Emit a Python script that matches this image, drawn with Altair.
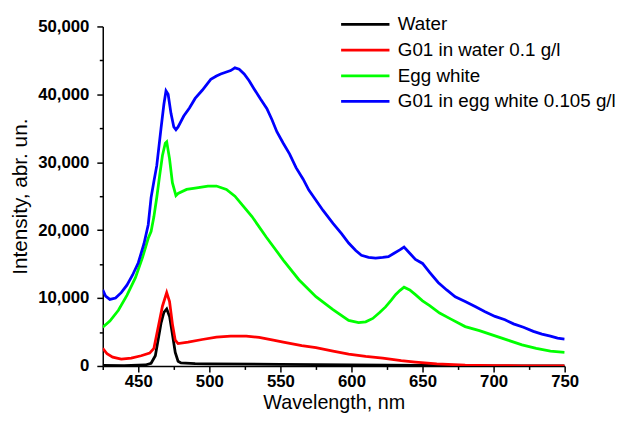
import altair as alt
import pandas as pd

# ---- data ----
water_wl = [425, 440, 455, 459, 462, 464, 466, 468, 470, 472, 474, 476, 478, 480, 490, 500, 550, 600, 650, 700, 750]
water_int = [100, 60, 150, 400, 1500, 3900, 6300, 7900, 8400, 7300, 4700, 2000, 700, 450, 350, 300, 250, 150, 80, 30, 10]

red_wl = [425, 428, 432, 438, 445, 452, 458, 461, 464, 467, 470, 472, 474, 476, 478, 485, 495, 505, 515, 526,
          535, 545, 552, 565, 575, 587, 598, 610, 622, 635, 645, 660, 680, 700, 720, 750]
red_int = [2600, 1800, 1300, 1000, 1150, 1500, 1900, 2600, 5700, 8800, 10800, 9500, 6200, 3800, 3300, 3500, 3900,
           4250, 4400, 4400, 4200, 3800, 3500, 3000, 2700, 2200, 1750, 1400, 1150, 800, 580, 300, 120, 60, 30, 20]

green_wl = [425, 430, 436, 442, 448, 453, 457, 459, 461, 463, 465, 467, 469, 470, 472, 474, 476.5, 478, 484, 490,
            499, 505, 512, 518, 524, 530, 540, 552, 563, 575, 587, 598, 605, 610, 615, 620, 624, 628, 631, 634,
            637, 641, 645, 650, 655, 662, 670, 680, 690, 700, 710, 720, 730, 740, 750]
green_int = [5700, 6600, 8200, 10400, 13000, 16000, 18800, 19800, 22000, 24800, 28000, 31000, 32800, 33000, 30500,
             27000, 25100, 25400, 26000, 26200, 26500, 26500, 26000, 25000, 23500, 22000, 19000, 15600, 12700,
             10200, 8300, 6700, 6400, 6500, 7000, 7900, 8700, 9700, 10500, 11100, 11600, 11200, 10500, 9600,
             8900, 7800, 6900, 5800, 5200, 4500, 3800, 3100, 2600, 2200, 2000]

blue_wl = [425, 427, 430, 434, 438, 442, 446, 450, 454, 457, 459, 461, 463, 466, 468, 469.5, 471, 473, 475, 476.5,
           478, 482, 486, 490, 495, 501, 505, 508, 512, 515, 518, 521, 524.5, 528, 531.5, 536, 540.5, 544,
           547.5, 552, 556.5, 561, 566, 570, 575, 580, 587, 593, 598, 603, 607, 612, 617, 622, 626, 630, 634,
           637, 641, 645, 650, 655, 661, 667, 673, 680, 687, 694, 701, 708, 714, 721, 728, 734, 740, 745, 750]
blue_int = [11200, 10300, 9800, 10000, 10800, 11900, 13400, 15200, 18000, 20800, 24800, 27200, 29500, 35000,
            38500, 40500, 40000, 37200, 35200, 34800, 35200, 36800, 38000, 39400, 40600, 42200, 42700, 43000,
            43300, 43500, 43900, 43700, 43000, 42000, 40800, 39300, 37900, 36300, 34500, 32800, 31200, 29200,
            27500, 25900, 24400, 22900, 21000, 19500, 18100, 17000, 16300, 16000, 15900, 16000, 16100, 16600,
            17100, 17500, 16600, 15700, 15100, 13800, 12300, 11200, 10200, 9500, 8750, 8000, 7300, 6800, 6200,
            5700, 5100, 4700, 4400, 4100, 3950]

series_names = ["Water", "G01 in water 0.1 g/l", "Egg white", "G01 in egg white 0.105 g/l"]
series_colors = ["#000000", "#ff0000", "#00ff00", "#0000ff"]

x_major = [450, 500, 550, 600, 650, 700, 750]
x_minor = [425, 475, 525, 575, 625, 675, 725]
y_major = [0, 10000, 20000, 30000, 40000, 50000]
y_minor = [5000, 15000, 25000, 35000, 45000]

rows = []
for name, wls, ints in zip(series_names, [water_wl, red_wl, green_wl, blue_wl],
                           [water_int, red_int, green_int, blue_int]):
    for w, v in zip(wls, ints):
        rows.append({"wl": w, "intensity": v, "series": name})
df = pd.DataFrame(rows)

FONT = "Liberation Sans"
xscale = alt.Scale(domain=[425, 750], nice=False, zero=False)
yscale = alt.Scale(domain=[0, 50000], nice=False)

main = alt.Chart(df).mark_line(strokeWidth=2.8, clip=True).encode(
    x=alt.X("wl:Q", scale=xscale,
            axis=alt.Axis(values=x_major, title="Wavelength, nm", grid=False, tickSize=6,
                          labelFontWeight="bold", labelFontSize=17, labelFont=FONT, labelColor="black",
                          titleFont=FONT, titleFontSize=20, titleFontWeight="normal", titleColor="black",
                          titlePadding=3, labelPadding=2, domainColor="black", tickColor="black",
                          domainWidth=1.5, tickWidth=1.5, labelFlush=False)),
    y=alt.Y("intensity:Q", scale=yscale,
            axis=alt.Axis(values=y_major, format=",.0f", title="Intensity, abr. un.", grid=False, tickSize=6,
                          labelFontWeight="bold", labelFontSize=17, labelFont=FONT, labelColor="black",
                          titleFont=FONT, titleFontSize=21, titleFontWeight="normal", titleColor="black",
                          titlePadding=7, labelPadding=8, domainColor="black", tickColor="black",
                          domainWidth=1.5, tickWidth=1.5, labelFlush=False)),
    color=alt.Color("series:N", scale=alt.Scale(domain=series_names, range=series_colors),
                    sort=series_names,
                    legend=alt.Legend(title=None, orient="none", legendX=252, legendY=-16,
                                      symbolType="M-2,0H2", symbolStrokeWidth=2.8, symbolSize=600,
                                      labelFontSize=19, labelFont=FONT, labelColor="black",
                                      labelOffset=19, rowPadding=2, padding=0, labelLimit=400)),
)

minor = alt.Chart(df).mark_line(opacity=0).encode(
    x=alt.X("wl:Q", scale=xscale,
            axis=alt.Axis(values=x_minor, orient="bottom", labels=False, domain=False, grid=False,
                          tickSize=3.5, tickColor="black", tickWidth=1.5, title=None)),
    y=alt.Y("intensity:Q", scale=yscale,
            axis=alt.Axis(values=y_minor, orient="left", labels=False, domain=False, grid=False,
                          tickSize=3.5, tickColor="black", tickWidth=1.5, title=None)),
)

chart = alt.layer(main, minor).resolve_axis(x="independent", y="independent").properties(
    width=468, height=344,
    autosize=alt.AutoSizeParams(type="none"),
    padding={"left": 96, "top": 16, "right": 51, "bottom": 48},
).configure_view(stroke=None)

chart.save("out.html", embed_options={"renderer": "svg", "actions": False})
